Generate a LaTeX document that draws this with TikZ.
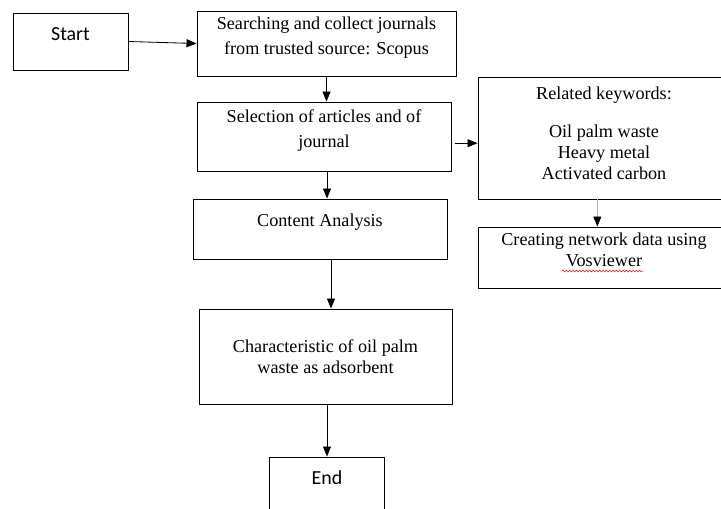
\documentclass[tikz,border=0pt]{standalone}
\usepackage{fontspec}
\setmainfont{Liberation Serif}
\newfontfamily\calibrifont{Carlito}
\usetikzlibrary{arrows.meta,decorations.pathmorphing}

\begin{document}
\begin{tikzpicture}[x=0.3mm, y=-0.3mm,
    every node/.style={font=\fontsize{15.5}{18}\selectfont},
    box/.style={draw=black, line width=0.8pt, rectangle,
                inner sep=2pt, align=center, fill=white},
    termbox/.style={box, minimum width=34.5mm, minimum height=17.1mm,
                text depth=4.5mm, font=\calibrifont\fontsize{17}{20}\selectfont},
    arrow/.style={-{Triangle[length=3mm,width=2.4mm]}, line width=0.7pt},
    spellmark/.style={draw=red, line width=0.4pt,
                decorate, decoration={snake, amplitude=0.3mm, segment length=1mm}}
]
  \useasboundingbox (0,0) rectangle (721,508);
  \clip (0,0) rectangle (721,508);

  % --- Main column ---
  \node[termbox] (start) at (70.5,41.5) {Start};
  \node[box, minimum width=77.7mm, minimum height=19.5mm, text depth=4.8mm] (search) at (326.5,43.5)
    {Searching and collect journals\\[1.2mm]from trusted source: Scopus};
  \node[box, minimum width=76.2mm, minimum height=20.7mm, text depth=4.8mm] (select) at (324,136.5)
    {Selection of articles and of\\[1.2mm]journal};
  \node[box, minimum width=76.2mm, minimum height=18mm, text depth=5.4mm] (content) at (320,229)
    {Content Analysis};
  \node[box, minimum width=75.9mm, minimum height=28.5mm] (charac) at (325.5,356.5)
    {Characteristic of oil palm\\waste as adsorbent};
  \node[termbox] (finish) at (327,485.5) {End};

  % --- Keyword branch (runs off the right edge) ---
  \node[box, minimum width=75.6mm, minimum height=36.6mm, text depth=3mm] (related) at (604,138)
    {Related keywords:\\[5.1mm]Oil palm waste\\Heavy metal\\Activated carbon};
  \node[box, minimum width=75.6mm, minimum height=18.3mm, text depth=4.5mm] (network) at (604,257.5)
    {Creating network data using\\Vosviewer};
  % spell-check squiggle under Vosviewer
  \draw[spellmark] ([shift={(-42,13.5)}]network.center) -- ++(82,0);

  % --- Arrows down the main column ---
  \draw[arrow] (start.east) -- (search.west);
  \draw[arrow] (search) -- (search |- select.north);
  \draw[arrow] ([xshift=0.9mm]select.south) -- ([xshift=0.9mm]select.south |- content.north);
  \draw[arrow] ([xshift=3.3mm]content.south) -- ([xshift=3.3mm]content.south |- charac.north);
  \draw[arrow] (charac.south -| finish) -- (finish.north);

  % --- Arrows to the keyword branch ---
  \draw[arrow] ([xshift=1.2mm,yshift=-2mm]select.east) -- ([yshift=-2mm]select.east -| related.west);
  \draw[arrow, draw=gray!60, -{Triangle[length=3mm,width=2.4mm,color=black]}]
    ([xshift=-2mm]related.south) -- ([xshift=-2mm]network.north);
\end{tikzpicture}
\end{document}
